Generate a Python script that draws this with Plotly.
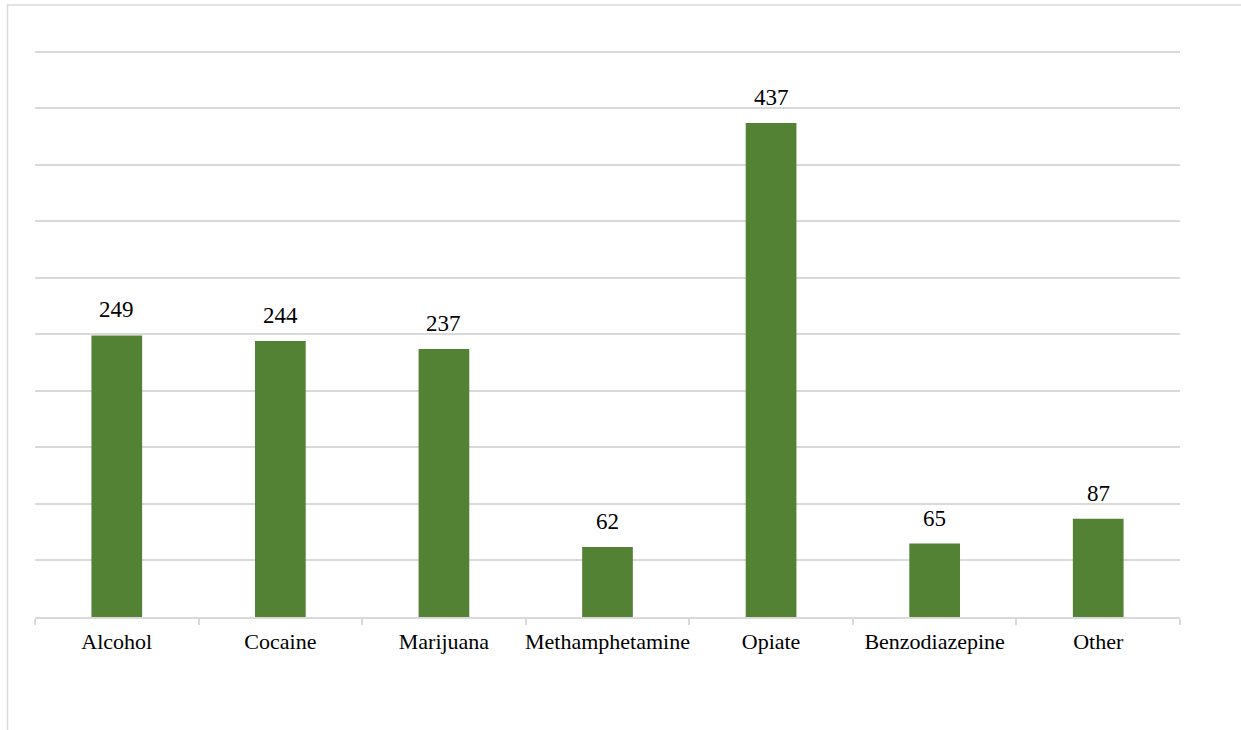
import plotly.graph_objects as go

categories = ["Alcohol", "Cocaine", "Marijuana", "Methamphetamine", "Opiate", "Benzodiazepine", "Other"]
values = [249, 244, 237, 62, 437, 65, 87]

W, H = 1241, 730
L, R = 35, 61
Y_TOP_GRID, Y_AXIS = 52.0, 617.0
YMAX = 505
px_per_unit = (Y_AXIS - Y_TOP_GRID) / 500.0
T = Y_AXIS - YMAX * px_per_unit
B = H - Y_AXIS
pw, ph = W - L - R, H - T - B

FONT = "Liberation Serif"

fig = go.Figure()
fig.add_trace(go.Bar(
    x=categories, y=values,
    marker=dict(color="#548235", line=dict(width=0)),
    hoverinfo="x+y",
))

for c, v in zip(categories, values):
    fig.add_annotation(
        x=c, y=v, text=str(v), showarrow=False,
        yanchor="bottom", yshift=11,
        font=dict(family=FONT, size=23, color="#000000"),
    )

# outer chart border (light gray frame)
fig.add_shape(
    type="rect", xref="paper", yref="paper",
    x0=(7.5 - L) / pw, x1=(W + 20 - L) / pw,
    y0=1 - (H + 20 - T) / ph, y1=1 + (T - 5.5) / ph,
    line=dict(color="#d9d9d9", width=1.5), fillcolor="rgba(0,0,0,0)",
    layer="below",
)

fig.update_layout(
    width=W, height=H,
    margin=dict(l=L, r=R, t=T, b=B, pad=0, autoexpand=False),
    paper_bgcolor="white", plot_bgcolor="white",
    bargap=0.69,
    showlegend=False,
    font=dict(family=FONT, size=22, color="#000000"),
    xaxis=dict(
        showline=True, linecolor="#d9d9d9", linewidth=1.5,
        ticks="outside", tickson="boundaries", ticklen=6, tickcolor="#d9d9d9", tickwidth=1.5,
        showgrid=False, tickfont=dict(size=22, family=FONT, color="#000000"),
        tickangle=0, automargin=False,
        ticklabelstandoff=4,
    ),
    yaxis=dict(
        range=[0, YMAX], tick0=0, dtick=50, showgrid=True, gridcolor="#d9d9d9", gridwidth=1.5,
        showticklabels=False, zeroline=False, showline=False, ticks="",
    ),
)

fig.write_html("out.html")
